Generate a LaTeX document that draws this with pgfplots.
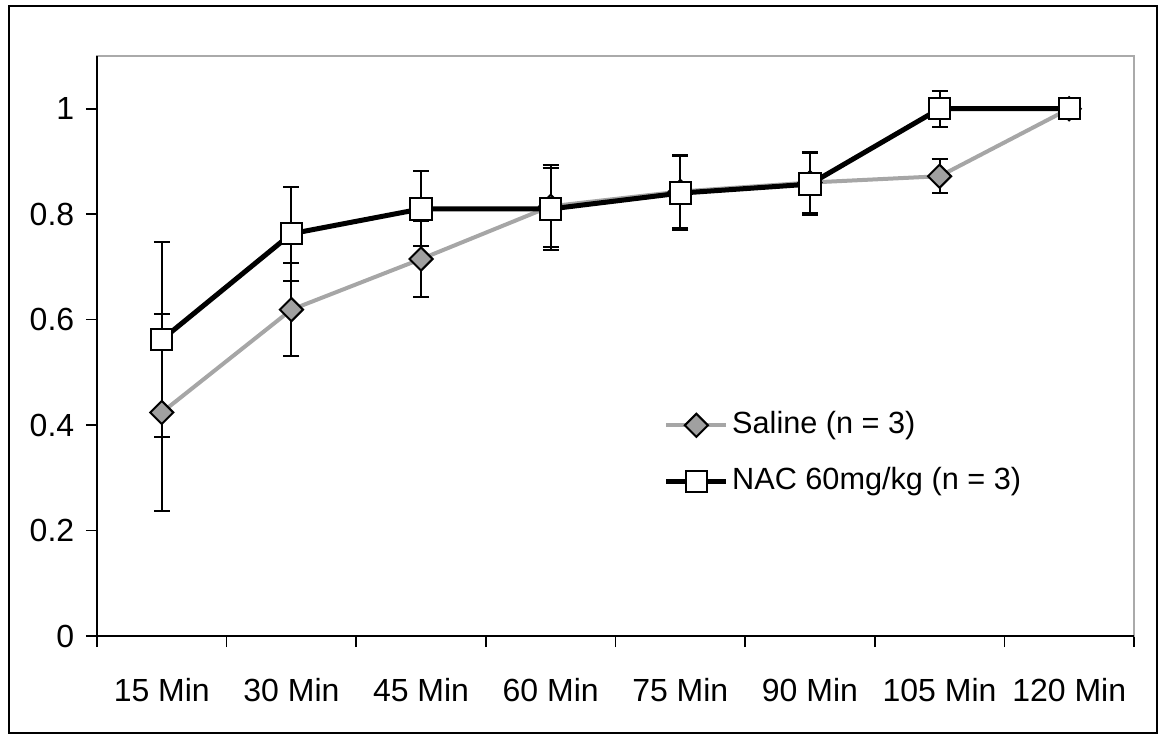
\documentclass[border=0pt]{standalone}
\usepackage{pgfplots}
\pgfplotsset{compat=1.18}
\usepackage{fontspec}
\setmainfont{Liberation Sans}
\definecolor{salgray}{RGB}{166,166,166}
\definecolor{markgray}{RGB}{160,160,160}
\definecolor{boxgray}{RGB}{170,170,170}

\begin{document}
\begin{tikzpicture}
\useasboundingbox (-29.1pt,-30pt) rectangle (318.6pt,190.8pt);
\draw[line width=0.6pt] (-26.4pt,-29.1pt) rectangle (318pt,189pt);
\begin{axis}[
  at={(0,0)}, anchor=south west,
  width=311.1pt, height=174pt, scale only axis,
  xmin=0.5, xmax=8.5, ymin=0, ymax=1.1,
  ytick={0,0.2,0.4,0.6,0.8,1},
  yticklabels={0,0.2,0.4,0.6,0.8,1},
  xtick={1,...,8},
  xticklabels={15 Min,30 Min,45 Min,60 Min,75 Min,90 Min,105 Min,120 Min},
  major x tick style={draw=none},
  minor xtick={0.5,1.5,...,8.5},
  tick align=outside,
  xtick pos=bottom, ytick pos=left,
  tick style={black, line width=0.5pt},
  major tick length=3.3pt, minor tick length=3.3pt,
  axis line style={boxgray, line width=0.5pt},
  ticklabel style={font=\fontsize{9.6}{11}\selectfont},
  xticklabel style={yshift=-6pt},
  /pgf/number format/assume math mode=true,
  clip=false,
  legend style={draw=none, fill=none, at={(0.546,0.396)}, anchor=north west,
    font=\fontsize{9.2}{11}\selectfont, row sep=5.8pt, inner sep=0pt,
    nodes={inner sep=1pt, text height=7pt, text depth=2pt}},
  legend cell align=left,
  legend image code/.code={
    \draw[#1, mark repeat=2, mark phase=2] plot coordinates {(0pt,0pt) (9pt,0pt) (18pt,0pt)};},
]
\addplot[salgray, line width=1.2pt,
  mark=square*, mark size=2.45pt,
  mark options={rotate=45, fill=markgray, draw=black, line width=0.6pt},
  error bars/.cd, y dir=both, y explicit,
  error bar style={black, line width=0.6pt},
  error mark options={rotate=90, mark size=2.4pt, black, line width=0.6pt}]
  coordinates {
  (1,0.424) +- (0,0.186)
  (2,0.619) +- (0,0.088)
  (3,0.715) +- (0,0.072)
  (4,0.815) +- (0,0.078)
  (5,0.843) +- (0,0.070)
  (6,0.860) +- (0,0.058)
  (7,0.872) +- (0,0.032)
  (8,1.000) +- (0,0.003)
  };
\addlegendentry{Saline (n = 3)}
\addplot[black, line width=1.5pt,
  mark=square*, mark size=3.2pt,
  mark options={fill=white, draw=black, line width=0.6pt},
  error bars/.cd, y dir=both, y explicit,
  error bar style={black, line width=0.6pt},
  error mark options={rotate=90, mark size=2.4pt, black, line width=0.6pt}]
  coordinates {
  (1,0.562) +- (0,0.185)
  (2,0.763) +- (0,0.089)
  (3,0.810) +- (0,0.071)
  (4,0.810) +- (0,0.077)
  (5,0.840) +- (0,0.070)
  (6,0.857) +- (0,0.059)
  (7,1.000) +- (0,0.034)
  (8,1.000) +- (0,0.003)
  };
\addlegendentry{NAC 60mg/kg (n = 3)}
\draw[black, line width=0.6pt] (rel axis cs:0,1) -- (rel axis cs:0,0) -- (rel axis cs:1,0);
\end{axis}
\end{tikzpicture}
\end{document}
